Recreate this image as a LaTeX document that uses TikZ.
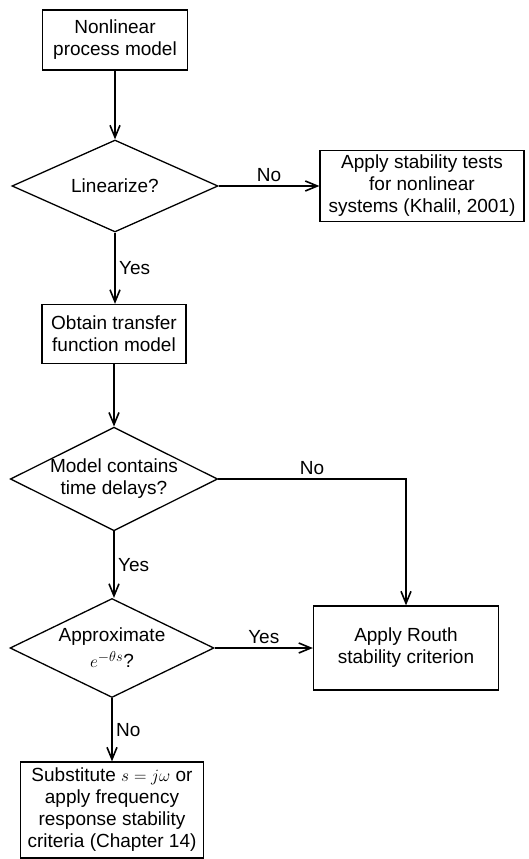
\documentclass[tikz,border=0pt]{standalone}
\usepackage{fontspec}
\setmainfont{Liberation Sans}
\usetikzlibrary{shapes.geometric,arrows.meta}
\begin{document}
\begin{tikzpicture}[x=1pt,y=-1pt,font=\fontsize{19}{22}\selectfont,
  box/.style={draw,line width=1.3pt,align=center,inner sep=0pt},
  decision/.style={draw,diamond,aspect=2,line width=1.3pt,align=center,inner sep=0pt},
  flow/.style={line width=1.6pt,arrows={-Straight Barb[length=12pt,width=10pt]}}]
\useasboundingbox (0,0) rectangle (528,859);
\node[box,minimum width=145pt,minimum height=60pt] (model) at (115,40) {Nonlinear\\process model};
\node[decision,minimum width=206pt,minimum height=92pt] (lin) at (115,186) {Linearize?};
\node[box,minimum width=204pt,minimum height=71pt] (tests) at (422,186) {Apply stability tests\\for nonlinear\\systems (Khalil, 2001)};
\node[box,minimum width=144pt,minimum height=59pt] (tf) at (114,334) {Obtain transfer\\function model};
\node[decision,minimum width=205pt,minimum height=100pt] (delay) at (114,479) {Model contains\\time delays?};
\node[decision,minimum width=204pt,minimum height=99pt] (approx) at (112,648) {Approximate\\[4pt]$e^{-\theta s}$?};
\node[box,minimum width=185pt,minimum height=84pt] (routh) at (406,648) {Apply Routh\\stability criterion};
\node[box,minimum width=183pt,minimum height=96pt] (freq) at (112,810) {Substitute $s=j\omega$ or\\apply frequency\\response stability\\criteria (Chapter 14)};
\draw[flow] (model) -- (lin);
\draw[flow] (lin) -- node[above] {No} (tests);
\draw[flow] (lin) -- node[right] {Yes} (lin |- tf.north);
\draw[flow] (tf) -- (delay);
\draw[flow] (delay) -| node[pos=.25,above] {No} (routh);
\draw[flow] (delay) -- node[right] {Yes} (delay |- approx.north);
\draw[flow] (approx) -- node[above] {Yes} (routh);
\draw[flow] (approx) -- node[right] {No} (freq);
\end{tikzpicture}
\end{document}
